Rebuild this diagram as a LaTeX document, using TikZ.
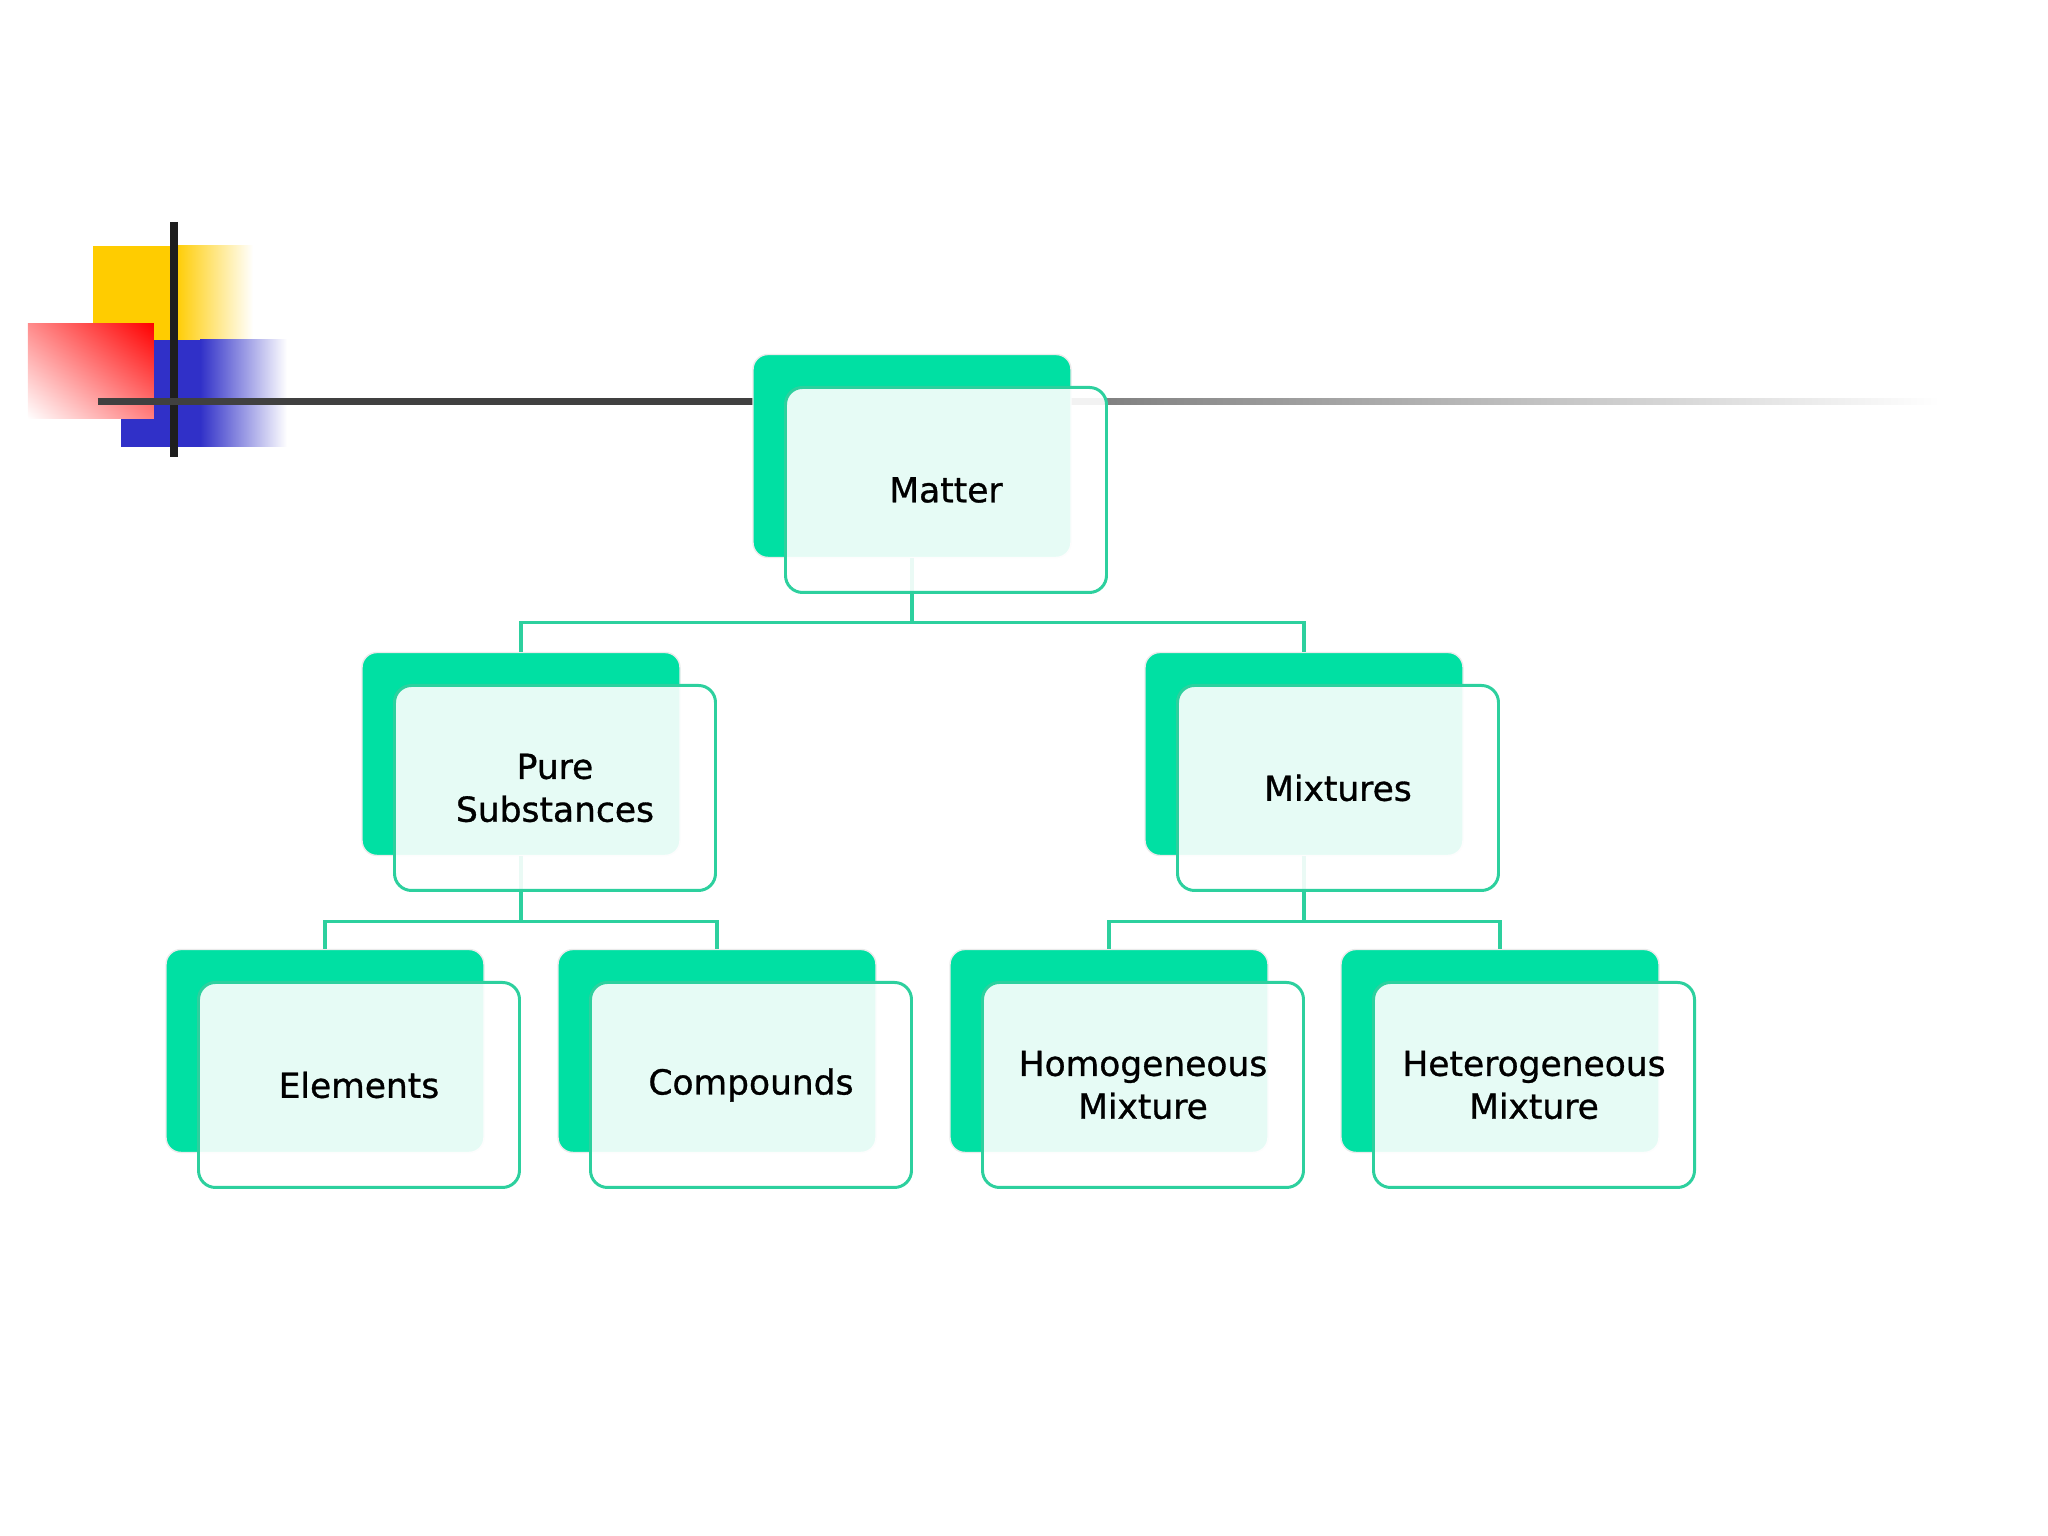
\documentclass[tikz,border=0pt]{standalone}
\usepackage{fontspec}
\setmainfont{DejaVu Sans}
\newfontfamily\cardfont{DejaVu Sans}[FakeBold=0.9]
\usepackage{xcolor}
\usepackage{tikz}
\usetikzlibrary{shadings}
\definecolor{CMGreen}{HTML}{00E0A3}
\definecolor{CMEdge}{HTML}{2DD09E}
\definecolor{CMYellow}{HTML}{FFCC00}
\definecolor{CMBlue}{HTML}{3030C8}
\definecolor{CMRed}{HTML}{FF0000}
\definecolor{CMBar}{HTML}{1E1E1E}

\begin{document}
\begin{tikzpicture}[x=1cm,y=1cm,
  backcard/.style={rectangle,rounded corners=0.15cm,minimum width=3.18cm,minimum height=2.03cm,
    inner sep=0pt,fill=CMGreen,draw=black!8,line width=0.4pt},
  frontcard/.style={rectangle,rounded corners=0.17cm,minimum width=3.21cm,minimum height=2.05cm,
    inner sep=0pt,draw=CMEdge,line width=0.85pt,fill=white,fill opacity=0.9,text opacity=1,
    align=center,font=\cardfont\fontsize{9.8}{12.2}\selectfont},
  link/.style={CMEdge,line width=0.9pt}]
\path[use as bounding box] (0,0) rectangle (20.48,15.36);
\fill[CMYellow] (0.93,11.91) rectangle (1.76,12.90);
\shade[left color=CMYellow,right color=white] (1.75,11.91) rectangle (2.53,12.90);
\fill[CMBlue] (1.21,10.89) rectangle (2.01,11.96);
\shade[left color=CMBlue,right color=white] (2.00,10.89) rectangle (2.87,11.96);
\shade[upper right=CMRed,lower left=white,upper left=CMRed!45!white,lower right=CMRed!50!white]
  (0.28,11.17) rectangle (1.54,12.12);
\draw[CMBar,line width=2pt] (1.74,13.14) -- (1.74,10.79);
\draw[CMBar!85!white,line width=2pt] (0.98,11.34) -- (7.62,11.34);
\shade[left color=black!70,right color=white] (7.60,11.31) rectangle (19.40,11.37);

\node[backcard] (matterbk) at (9.12,10.80) {};
\node[backcard] (purebk) at (5.21,7.82) {};
\node[backcard] (mixbk) at (13.04,7.82) {};
\node[backcard] (elembk) at (3.25,4.85) {};
\node[backcard] (compbk) at (7.17,4.85) {};
\node[backcard] (homobk) at (11.09,4.85) {};
\node[backcard] (hetebk) at (15.00,4.85) {};

\draw[link] (matterbk.south) -- ++(0,-0.645) -| (purebk.north);
\draw[link] (matterbk.south) -- ++(0,-0.645) -| (mixbk.north);
\draw[link] (purebk.south) -- ++(0,-0.655) -| (elembk.north);
\draw[link] (purebk.south) -- ++(0,-0.655) -| (compbk.north);
\draw[link] (mixbk.south) -- ++(0,-0.655) -| (homobk.north);
\draw[link] (mixbk.south) -- ++(0,-0.655) -| (hetebk.north);

\node[frontcard] (matter) at ([shift={(0.34,-0.34)}]matterbk.center) {Matter};
\node[frontcard] (pure) at ([shift={(0.34,-0.34)}]purebk.center) {Pure\\Substances};
\node[frontcard] (mix) at ([shift={(0.34,-0.34)}]mixbk.center) {Mixtures};
\node[frontcard] (elem) at ([shift={(0.34,-0.34)}]elembk.center) {Elements};
\node[frontcard] (comp) at ([shift={(0.34,-0.34)}]compbk.center) {Compounds};
\node[frontcard] (homo) at ([shift={(0.34,-0.34)}]homobk.center) {Homogeneous\\Mixture};
\node[frontcard] (hete) at ([shift={(0.34,-0.34)}]hetebk.center) {Heterogeneous\\Mixture};
\end{tikzpicture}
\end{document}
